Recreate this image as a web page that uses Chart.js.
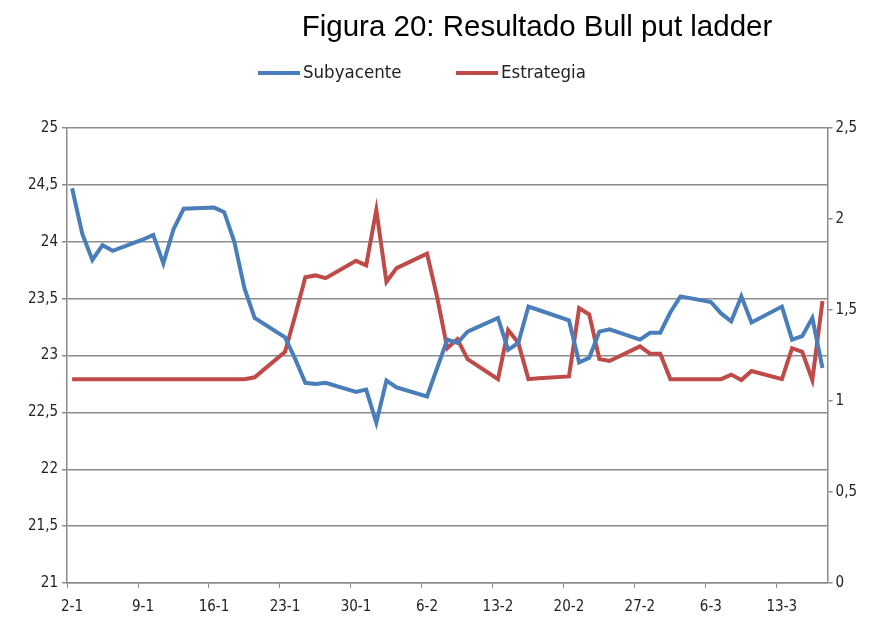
<!DOCTYPE html>
<html>
<head>
<meta charset="utf-8">
<script src="https://cdn.jsdelivr.net/npm/chart.js@4"></script>
<style>
  html, body { margin: 0; padding: 0; background: #fff; }
  #wrap { width: 875px; height: 619px; }
</style>
</head>
<body>
<div id="wrap"><canvas id="myChart" width="875" height="619"></canvas></div>
<script>
// dias desde el 2 de enero (solo sesiones)
var dias = [0, 1, 2, 3, 4, 7, 8, 9, 10, 11, 14, 15, 16, 17, 18, 21, 22, 23, 24, 25,
    28, 29, 30, 31, 32, 35, 36, 37, 38, 39, 42, 43, 44, 45, 46, 49, 50, 51, 52, 53,
    56, 57, 58, 59, 60, 63, 64, 65, 66, 67, 70, 71, 72, 73, 74];

var subyacente = [24.47, 24.07, 23.84, 23.97, 23.92, 24.02, 24.06, 23.81, 24.11, 24.29,
    24.30, 24.26, 24.00, 23.59, 23.33, 23.16, 22.97, 22.76, 22.75, 22.76,
    22.68, 22.70, 22.41, 22.78, 22.72, 22.64, 22.89, 23.14, 23.11, 23.21,
    23.33, 23.05, 23.11, 23.43, 23.40, 23.31, 22.94, 22.98, 23.21, 23.23,
    23.14, 23.20, 23.20, 23.38, 23.52, 23.47, 23.37, 23.30, 23.52, 23.29,
    23.43, 23.14, 23.17, 23.33, 22.89];

var estrategia = [1.12, 1.12, 1.12, 1.12, 1.12, 1.12, 1.12, 1.12, 1.12, 1.12,
    1.12, 1.12, 1.12, 1.12, 1.13, 1.27, 1.47, 1.68, 1.69, 1.675,
    1.77, 1.745, 2.05, 1.655, 1.73, 1.81, 1.57, 1.29, 1.34, 1.23,
    1.12, 1.39, 1.32, 1.12, 1.125, 1.135, 1.51, 1.475, 1.23, 1.22,
    1.30, 1.26, 1.26, 1.12, 1.12, 1.12, 1.12, 1.145, 1.115, 1.165,
    1.12, 1.29, 1.27, 1.115, 1.55];

var etiquetasX = ['2-1', '9-1', '16-1', '23-1', '30-1', '6-2', '13-2', '20-2', '27-2', '6-3', '13-3'];

var titulo = 'Figura 20: Resultado Bull put ladder';
var azul = '#4A7EBB';
var rojo = '#BE4B48';
var gris = '#8c8c8c';
var fuenteEjes = "'Liberation Sans Narrow', 'DejaVu Sans Condensed', sans-serif";

function puntos(valores) {
    return dias.map(function (d, i) { return { x: d, y: valores[i] }; });
}

function coma(v) {
    return String(Math.round(v * 10) / 10).replace('.', ',');
}

// titulo y leyenda dibujados a mano (van desplazados como en el original)
var textos = {
    id: 'textos',
    afterDraw: function (chart) {
        var c = chart.ctx;
        c.save();
        c.fillStyle = '#000';
        c.font = "29.5px 'Liberation Sans', Arial, sans-serif";
        c.textAlign = 'center';
        c.textBaseline = 'middle';
        c.fillText(titulo, 537, 28);

        c.font = "18.5px " + fuenteEjes;
        c.textAlign = 'left';
        var items = [[258, chart.data.datasets[0]], [456, chart.data.datasets[1]]];
        items.forEach(function (it) {
            c.fillStyle = it[1].borderColor;
            c.fillRect(it[0], 71, 42, 4);
            c.fillStyle = '#222';
            c.fillText(it[1].label, it[0] + 45, 73);
        });
        c.restore();
    }
};

var ctx = document.getElementById('myChart').getContext('2d');
var myChart = new Chart(ctx, {
    type: 'line',
    data: {
        datasets: [
        {
            label: 'Subyacente',
            data: puntos(subyacente),
            borderColor: azul,
            backgroundColor: azul,
            borderWidth: 4,
            pointRadius: 0,
            tension: 0,
            yAxisID: 'y'
        },
        {
            label: 'Estrategia',
            data: puntos(estrategia),
            borderColor: rojo,
            backgroundColor: rojo,
            borderWidth: 4,
            pointRadius: 0,
            tension: 0,
            yAxisID: 'y1'
        }
        ]
    },
    options: {
        responsive: false,
        animation: false,
        layout: { padding: { top: 128, left: 24, right: 15, bottom: 3 } },
        plugins: {
            legend: { display: false },
            title: { display: false },
            tooltip: { enabled: false }
        },
        scales: {
            x: {
                type: 'linear',
                min: -0.5,
                max: 74.5,
                afterBuildTicks: function (axis) {
                    axis.ticks = etiquetasX.map(function (t, i) { return { value: i * 7 - 0.5 }; });
                },
                afterFit: function (axis) { axis.height = 33; },
                ticks: {
                    callback: function (v, i) { return etiquetasX[i]; },
                    labelOffset: 5,
                    maxRotation: 0,
                    autoSkip: false,
                    padding: 10,
                    color: '#222',
                    font: { family: fuenteEjes, size: 15 }
                },
                grid: { drawOnChartArea: false, drawTicks: true, tickLength: 5, color: gris },
                border: { display: true, color: gris, width: 1.5 }
            },
            y: {
                position: 'left',
                min: 21,
                max: 25,
                ticks: {
                    stepSize: 0.5,
                    callback: coma,
                    padding: 4,
                    color: '#222',
                    font: { family: fuenteEjes, size: 15 }
                },
                grid: { color: gris, lineWidth: 1.5, tickLength: 5 },
                border: { display: true, color: gris, width: 1.5 }
            },
            y1: {
                position: 'right',
                min: 0,
                max: 2.5,
                ticks: {
                    stepSize: 0.5,
                    callback: coma,
                    padding: 3,
                    color: '#222',
                    font: { family: fuenteEjes, size: 15 }
                },
                grid: { drawOnChartArea: false, color: gris, lineWidth: 1.5, tickLength: 5 },
                border: { display: true, color: gris, width: 1.5 }
            }
        }
    },
    plugins: [textos]
});
</script>
</body>
</html>
